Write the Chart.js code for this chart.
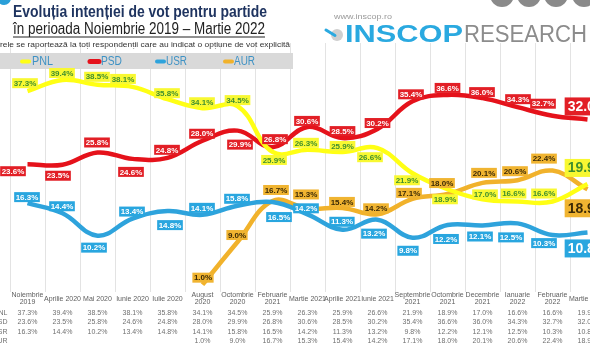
<!DOCTYPE html>
<html><head><meta charset="utf-8">
<script src="https://cdn.jsdelivr.net/npm/chart.js@4/dist/chart.umd.min.js"></script>
<style>
html,body{margin:0;padding:0;background:#fff;overflow:hidden;width:590px;height:354px}
#wrap{position:relative;width:620px;height:354px}
canvas{display:block}
</style></head><body><div id="wrap"><canvas id="c" width="620" height="354"></canvas></div>
<script>
// ---- data ----
const categories = [["Noiembrie","2019"],"Aprilie 2020","Mai 2020","Iunie 2020","Iulie 2020",["August","2020"],["Octombrie","2020"],["Februarie","2021"],"Martie 2021","Aprilie 2021","Iunie 2021",["Septembrie","2021"],["Octombrie","2021"],["Decembrie","2021"],["Ianuarie","2022"],["Februarie","2022"],"Martie 2022"];
const pnl = [37.3,39.4,38.5,38.1,35.8,34.1,34.5,25.9,26.3,25.9,26.6,21.9,18.9,17.0,16.6,16.6,19.9];
const psd = [23.6,23.5,25.8,24.6,24.8,28.0,29.9,26.8,30.6,28.5,30.2,35.4,36.6,36.0,34.3,32.7,32.0];
const usr = [16.3,14.4,10.2,13.4,14.8,14.1,15.8,16.5,14.2,11.3,13.2,9.8,12.2,12.1,12.5,10.3,10.8];
const aur = [null,null,null,null,null,1.0,9.0,16.7,15.3,15.4,14.2,17.1,18.0,20.1,20.6,22.4,18.9];
const seriesNames = ["PNL","PSD","USR","AUR"];

// ---- label placement (styling, px offsets from each point) ----
const pnlLabelPos = [[-2.5,-8],[-0.5,-7],[-0.5,-8],[-9.5,-8],[-0.5,-6],[-0.5,-6],[0,-6],[1.5,8],[-1.5,-7],[0,-6],[-7.5,9],[-5.5,7],[-2.5,10],[2.5,-5],[-4,-8],[-8.5,-8],[0,-16]];
const psdLabelPos = [[-14.5,7],[-4.5,11],[-0.5,-10],[-1.5,13],[-0.5,-8],[-0.5,-7],[2.5,14],[2.5,-8],[-0.5,-6],[0,-7],[0,-6],[-1.5,-7],[0,-7],[-0.5,-6],[0.5,-8],[-9.5,-12],[0,-13]];
const usrLabelPos = [[-0.5,-6],[-0.5,-7],[-3.5,12],[-0.5,-7],[2.5,14],[-0.5,-7],[-0.5,-7],[6.5,15],[-1.5,-6],[-0.5,-8],[-3.5,14],[-4.5,13],[-1.5,14],[-2.5,11],[-6.5,14],[-8.5,8],[0,16]];
const aurLabelPos = [null,null,null,null,null,[0.5,-7],[-0.5,-7],[3.5,-11],[-1.5,-14],[-0.5,-6],[-1.5,-6],[-3.5,-6],[-5.5,-11],[1.5,-10],[-2.5,-9],[-8.5,-12],[0,19]];

const lineColors = ['#ffff14','#e5121b','#2ea3dc','#f1b22b'];
const labelBg = ['#f8f832','#e21f26','#29a6df','#f0b431'];
const labelFg = ['#3f8f2f','#ffffff','#ffffff','#3b2a06'];
const labelPos = [pnlLabelPos, psdLabelPos, usrLabelPos, aurLabelPos];
const FONT = '"Liberation Sans", Arial, sans-serif';

function fitText(ctx, text, x, y, width, align){
  const w = ctx.measureText(text).width;
  const s = width / w;
  ctx.save();
  ctx.translate(x, y);
  ctx.scale(s, 1);
  ctx.textAlign = align || 'left';
  ctx.fillText(text, 0, 0);
  ctx.restore();
}

function drawLabel(ctx, text, cx, cy, bg, fg, size){
  ctx.font = 'bold ' + size + 'px ' + FONT;
  const w = ctx.measureText(text).width;
  const padX = size > 10 ? 3 : 1.5;
  const h = size > 10 ? size + 4 : size + 2;
  ctx.fillStyle = bg;
  ctx.fillRect(cx - w/2 - padX, cy - h/2, w + 2*padX, h);
  ctx.fillStyle = fg;
  ctx.textAlign = 'center';
  ctx.textBaseline = 'middle';
  ctx.fillText(text, cx, cy + 0.5);
}

const decor = {
  id: 'decor',
  beforeDatasetsDraw(chart){
    const ctx = chart.ctx;
    ctx.save();
    // legend band
    ctx.fillStyle = '#d9d9d9';
    ctx.fillRect(0, 53, 293, 16);
    const legendX = [[22,29,32],[90,99,101],[157,164,166],[225,232,234]];
    ctx.lineCap = 'round';
    seriesNames.forEach((n,i)=>{
      ctx.strokeStyle = lineColors[i];
      ctx.lineWidth = i===1 ? 5 : 4;
      ctx.beginPath(); ctx.moveTo(legendX[i][0], 61.5); ctx.lineTo(legendX[i][1], 61.5); ctx.stroke();
      ctx.fillStyle = '#3f92c4';
      ctx.font = '12px ' + FONT;
      ctx.textBaseline = 'middle';
      fitText(ctx, n, legendX[i][2], 62, 21, 'left');
    });
    ctx.restore();
  },
  afterDatasetsDraw(chart){
    const ctx = chart.ctx;
    ctx.save();
    chart.data.datasets.forEach((ds, i)=>{
      const meta = chart.getDatasetMeta(i);
      ds.data.forEach((v, j)=>{
        if (v === null) return;
        const p = meta.data[j];
        const off = labelPos[i][j];
        const last = j === ds.data.length - 1;
        drawLabel(ctx, v.toFixed(1) + '%', p.x + off[0], p.y + off[1], labelBg[i], labelFg[i], last ? 14 : 8);
      });
    });
    ctx.restore();
  },
  afterDraw(chart){
    const ctx = chart.ctx;
    const xs = chart.scales.x;
    ctx.save();
    // ---- table ----
    ctx.textAlign = 'center';
    ctx.textBaseline = 'middle';
    categories.forEach((c, j)=>{
      const x = xs.getPixelForValue(j);
      ctx.font = '7px ' + FONT;
      ctx.fillStyle = '#606060';
      if (Array.isArray(c)) {
        ctx.fillText(c[0], x, 295);
        ctx.fillText(c[1], x, 302.5);
      } else {
        ctx.fillText(c, x, 299.5);
      }
    });
    const rows = [pnl, psd, usr, aur];
    const rowY = [313, 322.3, 331.6, 341];
    rows.forEach((r, i)=>{
      ctx.fillStyle = '#707070';
      ctx.font = '7px ' + FONT;
      ctx.textAlign = 'right';
      ctx.fillText(seriesNames[i], 7.5, rowY[i]);
      ctx.textAlign = 'center';
      r.forEach((v, j)=>{
        if (v === null) return;
        ctx.fillText(v.toFixed(1) + '%', xs.getPixelForValue(j), rowY[i]);
      });
    });
    // ---- titles ----
    ctx.textAlign = 'left';
    ctx.textBaseline = 'alphabetic';
    ctx.fillStyle = '#1f3460';
    ctx.font = 'bold 16px ' + FONT;
    fitText(ctx, 'Evoluția intenției de vot pentru partide', 13, 17, 254);
    ctx.fillStyle = '#222';
    ctx.font = '16px ' + FONT;
    fitText(ctx, 'în perioada Noiembrie 2019 – Martie 2022', 13, 34, 252);
    ctx.fillRect(13, 36.5, 252, 1);
    // subtitle, beginning cut at the left edge
    ctx.fillStyle = '#333';
    ctx.font = '8px ' + FONT;
    const full = 'Cifrele se raportează la toți respondenții care au indicat o opțiune de vot explicită';
    const hidden = ctx.measureText('Cif').width;
    const visW = ctx.measureText(full).width - hidden;
    const s = 290 / visW;
    ctx.save(); ctx.scale(s, 1); ctx.fillText(full, -hidden, 46.5); ctx.restore();
    // top-left icon fragment
    ctx.fillStyle = '#2a9fd8';
    ctx.beginPath(); ctx.arc(4, -2, 7, 0, Math.PI*2); ctx.fill();
    // top-right grey circles
    ctx.fillStyle = '#8a8a8a';
    [502, 529, 556, 584].forEach(cx=>{ ctx.beginPath(); ctx.arc(cx, -5, 12, 0, Math.PI*2); ctx.fill(); });
    // logo
    ctx.fillStyle = '#9a9a9a';
    ctx.font = '8px ' + FONT;
    fitText(ctx, 'www.inscop.ro', 334, 19, 58);
    ctx.fillStyle = '#cfcfcf';
    ctx.beginPath(); ctx.arc(337, 35, 6, 0, Math.PI*2); ctx.fill();
    ctx.strokeStyle = '#2aa9e0'; ctx.lineWidth = 3; ctx.lineCap = 'round';
    ctx.beginPath(); ctx.moveTo(326, 30); ctx.lineTo(335, 35.5); ctx.stroke();
    ctx.fillStyle = '#2aa9e0';
    ctx.font = 'bold 23px ' + FONT;
    fitText(ctx, 'INSCOP', 345, 42, 118);
    ctx.fillStyle = '#8c8c8c';
    ctx.font = '23px ' + FONT;
    fitText(ctx, 'RESEARCH', 464, 42, 123);
    ctx.restore();
  }
};

function mkDs(label, data, i){
  return {
    label, data,
    borderColor: lineColors[i],
    backgroundColor: lineColors[i],
    borderWidth: 4.5,
    tension: 0.4,
    pointRadius: 0,
    pointHoverRadius: 0,
    spanGaps: false,
    clip: false,
    fill: false
  };
}

new Chart(document.getElementById('c'), {
  type: 'line',
  data: {
    labels: categories,
    datasets: [mkDs('PNL', pnl, 0), mkDs('PSD', psd, 1), mkDs('USR', usr, 2), mkDs('AUR', aur, 3)]
  },
  options: {
    responsive: false,
    animation: false,
    devicePixelRatio: 1,
    layout: { padding: { left: 10, right: 15, top: 43, bottom: 62 } },
    plugins: { legend: { display: false }, tooltip: { enabled: false } },
    scales: {
      x: {
        offset: true,
        grid: { offset: true, color: '#e3e3e3', lineWidth: 1, drawTicks: false },
        border: { display: false },
        ticks: { display: false }
      },
      y: {
        display: false,
        min: -0.375,
        max: 46.34
      }
    }
  },
  plugins: [decor]
});
</script>
</body></html>
